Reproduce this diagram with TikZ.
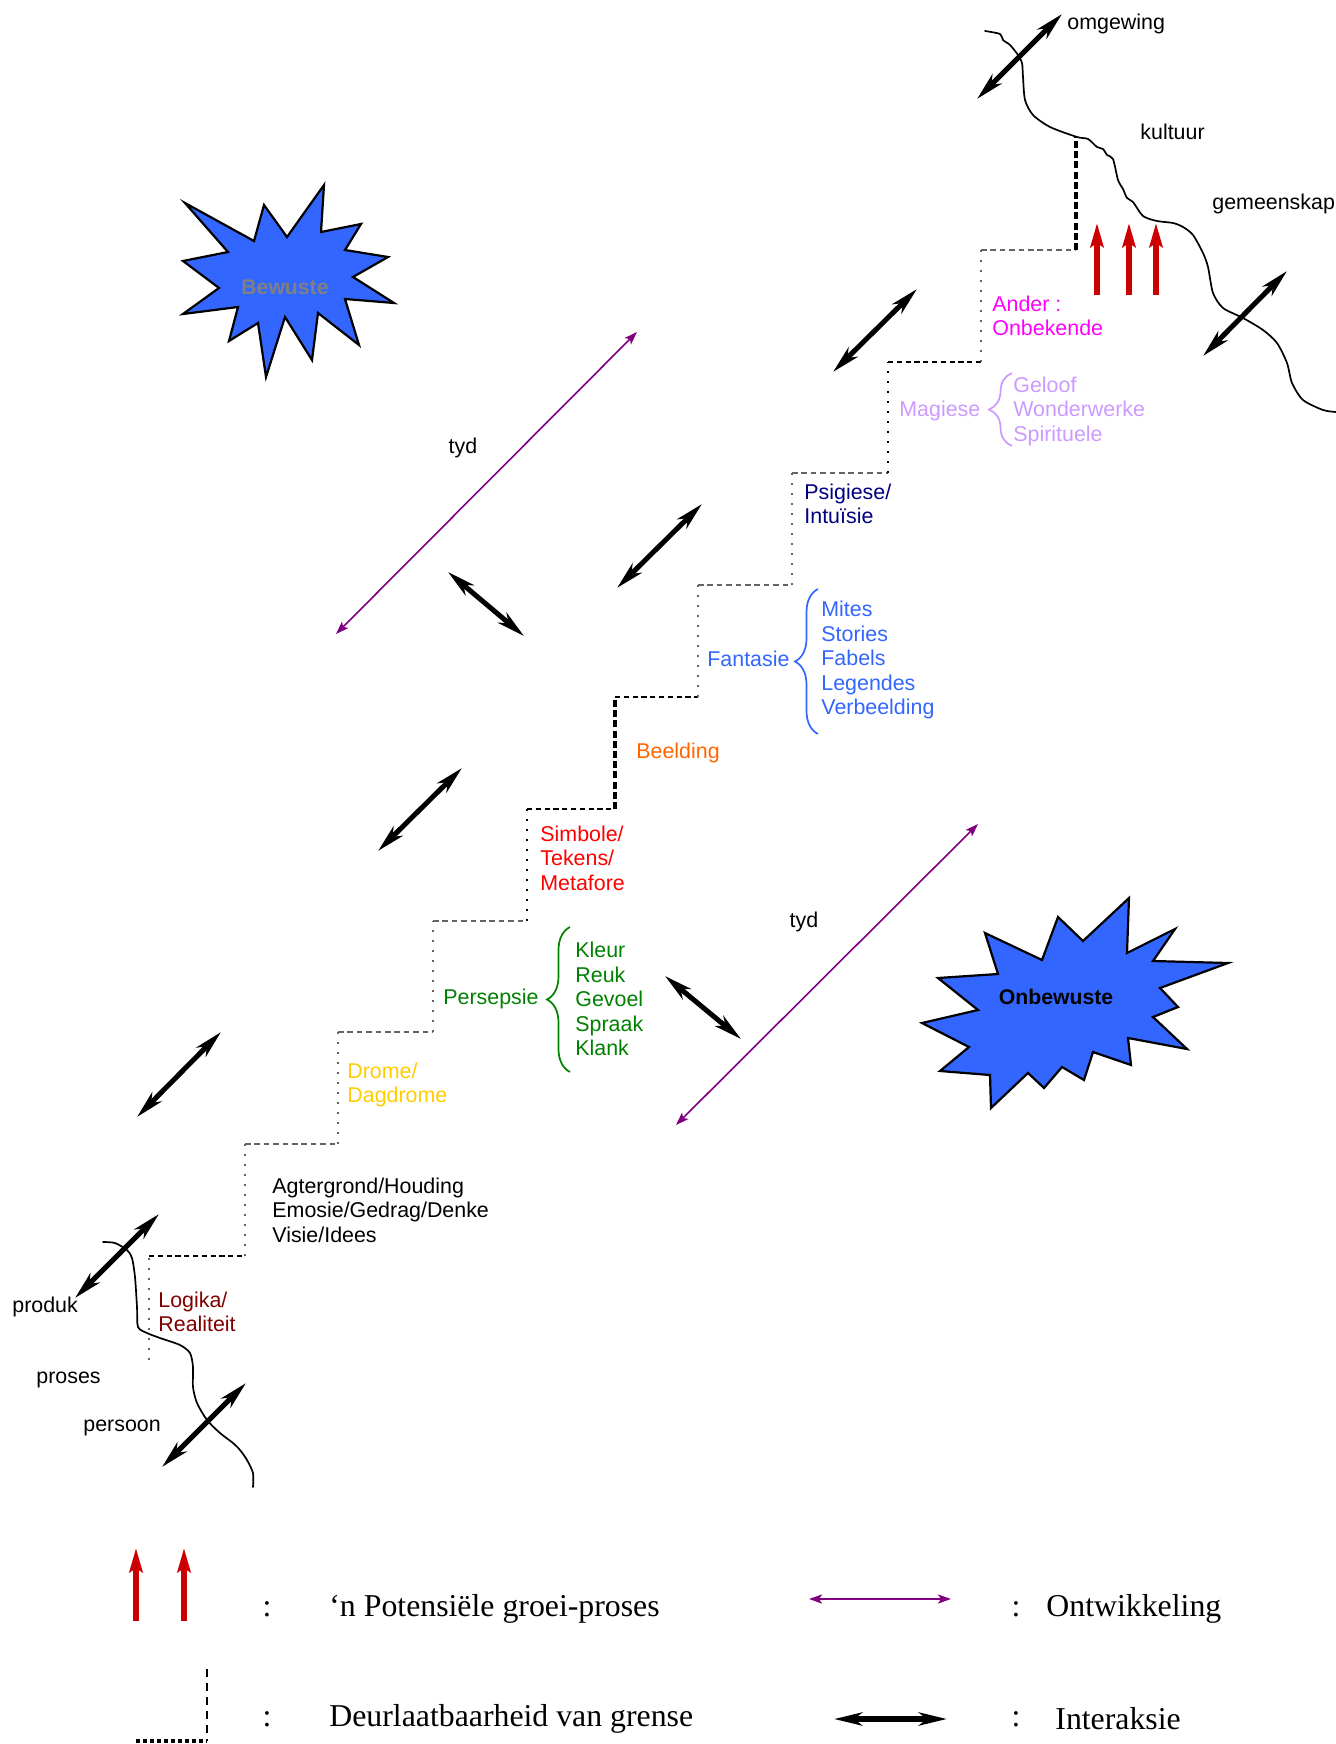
\documentclass[tikz,border=0pt]{standalone}
\usepackage{fontspec}
\setmainfont{Liberation Sans}
\newfontfamily\legendfont{Liberation Serif}
\usetikzlibrary{arrows.meta,decorations.pathreplacing}

\definecolor{starblue}{RGB}{51,102,255}
\definecolor{growred}{RGB}{204,0,0}
\definecolor{devpurple}{RGB}{128,0,128}
\definecolor{cMagiese}{RGB}{204,153,255}
\definecolor{cFantasie}{RGB}{51,102,255}
\definecolor{cPersepsie}{RGB}{0,128,0}
\definecolor{cPsigiese}{RGB}{0,0,128}
\definecolor{cAnder}{RGB}{255,0,255}
\definecolor{cBeelding}{RGB}{255,102,0}
\definecolor{cSimbole}{RGB}{255,0,0}
\definecolor{cDrome}{RGB}{255,204,0}
\definecolor{cLogika}{RGB}{128,0,0}
\definecolor{stepgray}{RGB}{100,100,100}

\tikzset{
  lbl/.style={font=\fontsize{10.7}{12.25}\selectfont, inner sep=0pt, anchor=west, align=left},
  starlbl/.style={font=\fontsize{10.6}{12.25}\selectfont\bfseries, inner sep=0pt},
  legtxt/.style={font=\legendfont\fontsize{15.9}{18}\selectfont, inner sep=0pt, anchor=west},
  legcolon/.style={font=\legendfont\fontsize{15.9}{18}\selectfont, inner sep=0pt},
  burst/.style={fill=starblue, draw=black, line width=1.1pt, line join=miter},
  interact/.style={line width=2.5pt,
    {Stealth[length=14pt,width=6.5pt,inset=4pt]}-{Stealth[length=14pt,width=6.5pt,inset=4pt]}},
  develop/.style={devpurple, line width=0.8pt,
    {Stealth[length=6.5pt,width=4.5pt,inset=1.5pt]}-{Stealth[length=6.5pt,width=4.5pt,inset=1.5pt]}},
  growarrow/.style={growred, line width=3pt, -{Stealth[length=12pt,width=6.5pt,inset=2pt]}},
  border/.style={line width=0.85pt, line cap=round, line join=round},
  stepdot/.style={stepgray, line width=1.2pt, dash pattern=on 1pt off 4pt},
  stepdash/.style={stepgray, line width=1.1pt, dash pattern=on 2.8pt off 1.9pt},
  blackdot/.style={black, line width=1.3pt, dash pattern=on 1.1pt off 3.9pt},
  blackdash/.style={black, line width=1.4pt, dash pattern=on 2.6pt off 1.8pt},
  heavydash/.style={black, line width=1.9pt, dash pattern=on 3.5pt off 1.6pt},
  bracestyle/.style={line width=0.85pt, decorate, decoration={brace, amplitude=11.5pt}}
}

\begin{document}
\begin{tikzpicture}[x=0.5pt, y=-0.5pt]
\useasboundingbox (0,0) rectangle (1336,1744);

% ---------- boundaries ----------
\draw[border] plot[smooth, tension=0.45] coordinates {
 (985,31) (1000,34) (1003,40) (1010,45) (1018,55) (1022,63) (1023,77) (1025,100)
 (1033,115) (1050,127) (1077,137) (1088,139) (1097,147) (1103,149) (1107,155)
 (1113,159) (1118,180) (1123,189) (1127,198) (1133,202) (1143,216) (1157,221)
 (1173,223) (1183,227) (1193,235) (1203,253) (1208,267) (1213,293) (1223,308)
 (1243,318) (1263,330) (1277,343) (1287,363) (1292,383) (1303,400) (1323,410) (1336,412)};
\draw[border] plot[smooth, tension=0.45] coordinates {
 (103,1242) (115,1243) (127,1250) (132,1258) (135,1277) (137,1307) (138,1327)
 (147,1333) (160,1338) (180,1345) (190,1353) (193,1367) (193,1387) (197,1403)
 (207,1420) (220,1433) (233,1443) (240,1450) (247,1460) (253,1473) (253,1487)};

% ---------- staircase ----------
\coordinate (s0) at (149,1360);
\coordinate (s1) at (149,1256);  \coordinate (s2) at (245,1256);
\coordinate (s3) at (245,1144);  \coordinate (s4) at (338,1144);
\coordinate (s5) at (338,1032);  \coordinate (s6) at (433,1032);
\coordinate (s7) at (433,921);   \coordinate (s8) at (527,921);
\coordinate (s9) at (527,809);   \coordinate (s10) at (615,809);
\coordinate (s11) at (615,697);  \coordinate (s12) at (698,697);
\coordinate (s13) at (698,585);  \coordinate (s14) at (792,585);
\coordinate (s15) at (792,473);  \coordinate (s16) at (888,473);
\coordinate (s17) at (888,362);  \coordinate (s18) at (981,362);
\coordinate (s19) at (981,250);  \coordinate (s20) at (1076,250);
\coordinate (s21) at (1076,137);

\draw[stepdot]   (s0) -- (s1);
\draw[blackdash] (s1) -- (s2);
\draw[stepdot]   (s2) -- (s3);
\draw[stepdash]  (s3) -- (s4);
\draw[stepdot]   (s4) -- (s5);
\draw[stepdash]  (s5) -- (s6);
\draw[stepdot]   (s6) -- (s7);
\draw[stepdash]  (s7) -- (s8);
\draw[blackdot]  (s8) -- (s9);
\draw[blackdash] (s9) -- (s10);
\draw[heavydash] (s10) -- (s11);
\draw[blackdash] (s11) -- (s12);
\draw[stepdot]   (s12) -- (s13);
\draw[stepdash]  (s13) -- (s14);
\draw[stepdot]   (s14) -- (s15);
\draw[stepdash]  (s15) -- (s16);
\draw[blackdot]  (s16) -- (s17);
\draw[blackdash] (s17) -- (s18);
\draw[stepdot]   (s18) -- (s19);
\draw[stepdash]  (s19) -- (s20);
\draw[heavydash] (s20) -- (s21);

% ---------- starbursts ----------
\draw[burst] (185,203) -- (254,241) -- (264,205) -- (287,237) -- (324,185) -- (321,232)
  -- (361,224) -- (345,250) -- (388,257) -- (353,277) -- (394,303) -- (345,299)
  -- (359,345) -- (318,313) -- (312,360) -- (285,317) -- (266,377) -- (258,323)
  -- (229,341) -- (238,307) -- (183,314) -- (219,288) -- (183,261) -- (228,252) -- cycle;
\node[starlbl, text=gray] (bewuste) at (285,287) {Bewuste};

\draw[burst] (985,933) -- (1042,960) -- (1058,917) -- (1083,941) -- (1129,898) -- (1127,953)
  -- (1175,929) -- (1153,961) -- (1228,963) -- (1160,988) -- (1178,1007) -- (1153,1017)
  -- (1187,1049) -- (1128,1038) -- (1131,1065) -- (1093,1052) -- (1084,1080) -- (1062,1067)
  -- (1044,1088) -- (1028,1073) -- (991,1108) -- (990,1075) -- (940,1071) -- (969,1047)
  -- (922,1023) -- (978,1010) -- (938,978) -- (998,974) -- cycle;
\node[starlbl, text=black] (onbewuste) at (1056,997) {Onbewuste};

% ---------- growth arrows ----------
\draw[growarrow] (1097,295) -- (1097,223);
\draw[growarrow] (1129,295) -- (1129,223);
\draw[growarrow] (1156,295) -- (1156,223);

% ---------- development (time) arrows ----------
\draw[develop] (336,634) -- (637,332);
\draw[develop] (676,1125) -- (978,824);
\node[lbl, anchor=center] (tyd1) at (463,448) {tyd};
\node[lbl, anchor=center] (tyd2) at (804,922) {tyd};

% ---------- interaction arrows ----------
\draw[interact] (977,99) -- (1062,14);
\draw[interact] (1203,356) -- (1287,271);
\draw[interact] (833,372) -- (917,289);
\draw[interact] (617,588) -- (702,504);
\draw[interact] (448,572) -- (524,636);
\draw[interact] (378,851) -- (462,768);
\draw[interact] (665,976) -- (741,1039);
\draw[interact] (137,1117) -- (221,1032);
\draw[interact] (75,1298) -- (159,1214);
\draw[interact] (162,1467) -- (246,1383);

% ---------- outer labels ----------
\node[lbl] (omgewing) at (1067,24) {omgewing};
\node[lbl] (kultuur) at (1140,132) {kultuur};
\node[lbl] (gemeenskap) at (1212,204) {gemeenskap};
\node[lbl] (produk) at (12,1307) {produk};
\node[lbl] (proses) at (36,1380) {proses};
\node[lbl] (persoon) at (83,1428) {persoon};

% ---------- stair labels ----------
\node[lbl, text=cAnder] (ander) at (992,316) {Ander :\\Onbekende};
\node[lbl, text=cMagiese] (magiese) at (899,411) {Magiese};
\draw[bracestyle, cMagiese] (1012,446) -- (1012,373);
\node[lbl, text=cMagiese] (geloof) at (1013,411) {Geloof\\Wonderwerke\\Spirituele};
\node[lbl, text=cPsigiese] (psigiese) at (804,504) {Psigiese/\\Intuïsie};
\node[lbl, text=cFantasie] (fantasie) at (707,659) {Fantasie};
\draw[bracestyle, cFantasie] (818,734) -- (818,589);
\node[lbl, text=cFantasie] (mites) at (821,660) {Mites\\Stories\\Fabels\\Legendes\\Verbeelding};
\node[lbl, text=cBeelding] (beelding) at (636,753) {Beelding};
\node[lbl, text=cSimbole] (simbole) at (540,858) {Simbole/\\Tekens/\\Metafore};
\node[lbl, text=cPersepsie] (persepsie) at (443,999) {Persepsie};
\draw[bracestyle, cPersepsie] (570,1072) -- (570,927);
\node[lbl, text=cPersepsie] (kleur) at (575,999) {Kleur\\Reuk\\Gevoel\\Spraak\\Klank};
\node[lbl, text=cDrome] (drome) at (347,1085) {Drome/\\Dagdrome};
\node[lbl] (agtergrond) at (272,1210) {Agtergrond/Houding\\Emosie/Gedrag/Denke\\Visie/Idees};
\node[lbl, text=cLogika] (logika) at (158,1312) {Logika/\\Realiteit};

% ---------- legend ----------
\draw[growarrow, line width=2.6pt] (136,1621) -- (136,1548);
\draw[growarrow, line width=2.6pt] (184,1621) -- (184,1548);
\node[legcolon] (c1) at (267,1609) {:};
\node[legtxt] (potensieel) at (329,1609) {‘n Potensiële groei-proses};

\draw[develop, line width=1pt] (809,1599) -- (951,1599);
\node[legcolon] (c2) at (1016,1609) {:};
\node[legtxt] (ontwikkeling) at (1046,1609) {Ontwikkeling};

\draw[black, line width=0.6pt, dash pattern=on 4pt off 3pt] (207,1669) -- (207,1741);
\draw[black, line width=1.6pt, dash pattern=on 2pt off 1.5pt] (136,1741) -- (207,1741);
\node[legcolon] (c3) at (267,1719) {:};
\node[legtxt] (deurlaat) at (329,1719) {Deurlaatbaarheid van grense};

\draw[interact, line width=3pt] (834,1719) -- (947,1719);
\node[legcolon] (c4) at (1016,1719) {:};
\node[legtxt] (interaksie) at (1055,1719) {Interaksie};
\end{tikzpicture}
\end{document}
